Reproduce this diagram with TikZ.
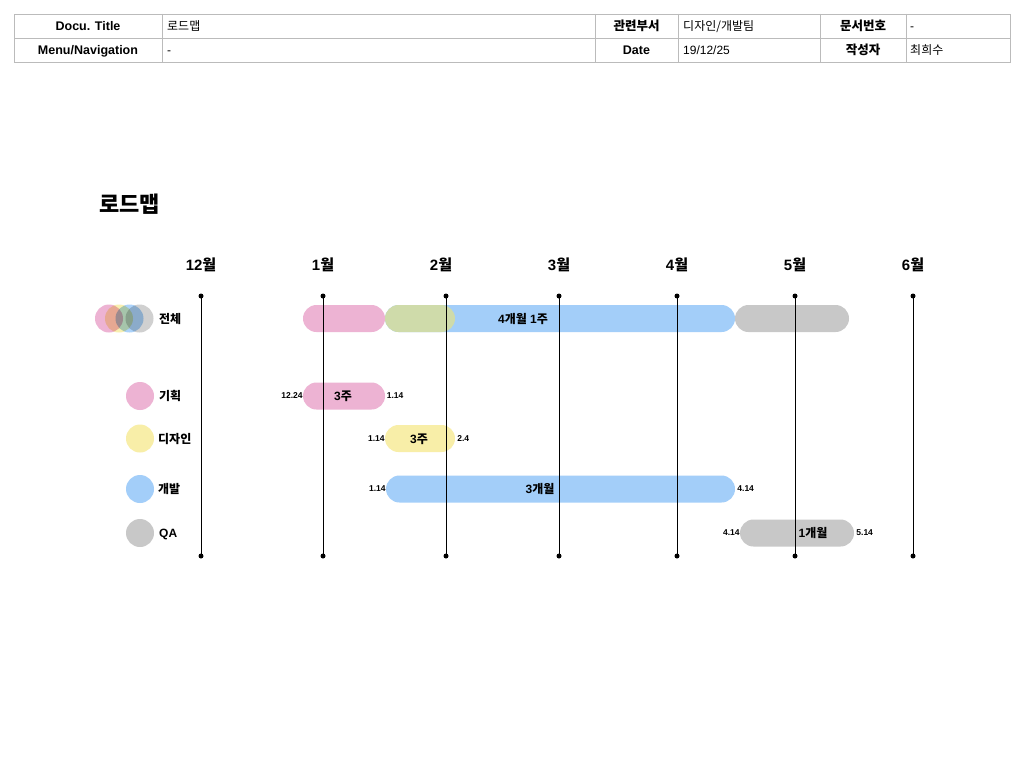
\documentclass[tikz,border=0pt]{standalone}
\usepackage{fontspec}
\setmainfont{Liberation Sans}
\newfontfamily\kr{Noto Sans CJK KR}
\definecolor{cpink}{HTML}{EDB3D3}
\definecolor{cyellow}{HTML}{F8EEA8}
\definecolor{cblue}{HTML}{A3CEF9}
\definecolor{cgray}{HTML}{C8C8C8}
\definecolor{cgreen}{HTML}{CFDBAA}
\definecolor{cborder}{HTML}{BBBBBB}
\tikzset{
  cell/.style={font=\fontsize{12}{14}\selectfont, anchor=base west, inner sep=0pt},
  hcell/.style={font=\fontsize{12.5}{14}\selectfont\bfseries, anchor=base, inner sep=0pt},
  bar/.style={rounded corners=13.5pt, minimum height=27pt, inner sep=0pt},
  barlbl/.style={font=\fontsize{12}{14}\selectfont\bfseries, anchor=base, inner sep=0pt},
  datelbl/.style={font=\fontsize{8.5}{10}\selectfont\bfseries, inner sep=0pt},
  month/.style={font=\fontsize{15}{17}\selectfont\bfseries, anchor=base, inner sep=0pt},
  rowlbl/.style={font=\fontsize{12}{14}\selectfont\bfseries, anchor=base west, inner sep=0pt},
  vline/.style={line width=1pt, black},
  dot/.style={circle, fill=black, inner sep=0pt, minimum size=5pt},
  legend/.style={circle, inner sep=0pt, minimum size=28pt},
}
\begin{document}
\begin{tikzpicture}[x=1pt,y=-1pt]
\useasboundingbox (0,0) rectangle (1024,768);
\fill[white] (0,0) rectangle (1024,768);
% header table
\draw[cborder, line width=0.9pt] (14,14) rectangle (1010,62);
\draw[cborder, line width=0.9pt] (14,38) -- (1010,38);
\foreach \x in {162,595,678,820,906} \draw[cborder, line width=0.9pt] (\x,14) -- (\x,62);
\node[hcell] (h1) at (88,30.5) {Docu. Title};
\node[hcell] (h2) at (88,54.5) {Menu/Navigation};
\node[cell] (v1) at (167,30.5) {\kr 로드맵};
\node[cell] (v2) at (167,54.5) {-};
\node[hcell] (h3) at (636.5,30.5) {\kr 관련부서};
\node[hcell] (h4) at (636.5,54.5) {Date};
\node[cell] (v3) at (683,30.5) {\kr 디자인/개발팀};
\node[cell] (v4) at (683,54.5) {19/12/25};
\node[hcell] (h5) at (863,30.5) {\kr 문서번호};
\node[hcell] (h6) at (863,54.5) {\kr 작성자};
\node[cell] (v5) at (910,30.5) {-};
\node[cell] (v6) at (910,54.5) {\kr 최희수};
% title
\node[font=\kr\fontsize{22}{25}\selectfont\bfseries, anchor=base west, inner sep=0pt] (title) at (99,212.5) {로드맵};
% bars - 전체
\node[bar, fill=cpink, minimum width=82pt] (allP) at (344,318.5) {};
\node[bar, fill=cblue, minimum width=350pt] (allB) at (560,318.5) {};
\node[bar, fill=cgreen, minimum width=70pt] (allY) at (420,318.5) {};
\node[bar, fill=cgray, minimum width=114pt] (allG) at (792,318.5) {};
\node[barlbl] (allL) at (523,323) {4{\kr 개월} 1{\kr 주}};
% row bars
\node[bar, fill=cpink, minimum width=82pt] (b1) at (344,396) {};
\node[bar, fill=cyellow, minimum width=70pt] (b2) at (420,438.5) {};
\node[bar, fill=cblue, minimum width=349pt] (b3) at (560.5,489) {};
\node[bar, fill=cgray, minimum width=114pt] (b4) at (797,533) {};
% month lines
\foreach \n/\x/\lbl in {m12/201/12, m1/323/1, m2/441/2, m3/559/3, m4/677/4, m5/795/5, m6/913/6}{
  \node[month] (\n l) at (\x,270.5) {\lbl{\kr 월}};
}
\foreach \n/\x in {m12/201, m1/323, m2/446, m3/559, m4/677, m5/795, m6/913}{
  \node[dot] (\n t) at (\x,296) {};
  \node[dot] (\n b) at (\x,556) {};
  \draw[vline] (\n t.center) -- (\n b.center);
}
% bar labels
\node[barlbl] (l1) at (343,400.5) {3{\kr 주}};
\node[barlbl] (l2) at (419,443) {3{\kr 주}};
\node[barlbl] (l3) at (540,493.5) {3{\kr 개월}};
\node[barlbl] (l4) at (813,537.5) {1{\kr 개월}};
% date labels
\node[datelbl, anchor=east] (d1a) at (b1.west) {12.24\hspace{1.5pt}};
\node[datelbl, anchor=west] (d1b) at (b1.east) {\hspace{1.5pt}1.14};
\node[datelbl, anchor=east] (d2a) at (b2.west) {1.14\hspace{2pt}};
\node[datelbl, anchor=west] (d2b) at (b2.east) {\hspace{2pt}2.4};
\node[datelbl, anchor=east] (d3a) at (b3.west) {1.14\hspace{2pt}};
\node[datelbl, anchor=west] (d3b) at (b3.east) {\hspace{2pt}4.14};
\node[datelbl, anchor=east] (d4a) at (b4.west) {4.14\hspace{2pt}};
\node[datelbl, anchor=west] (d4b) at (b4.east) {\hspace{2pt}5.14};
% legend
\begin{scope}[blend group=multiply]
\node[legend, fill=cpink] (c0a) at (109,318.5) {};
\node[legend, fill=cyellow, opacity=0.9] (c0b) at (119,318.5) {};
\node[legend, fill=cblue, opacity=0.9] (c0c) at (129.5,318.5) {};
\node[legend, fill=cgray, opacity=0.85] (c0d) at (139.5,318.5) {};
\end{scope}
\node[rowlbl] (r0) at (159,323) {\kr 전체};
\node[legend, fill=cpink] (c1) at (140,396) {};
\node[rowlbl] (r1) at (159,400.5) {\kr 기획};
\node[legend, fill=cyellow] (c2) at (140,438.5) {};
\node[rowlbl] (r2) at (158,443) {\kr 디자인};
\node[legend, fill=cblue] (c3) at (140,489) {};
\node[rowlbl] (r3) at (158,493.5) {\kr 개발};
\node[legend, fill=cgray] (c4) at (140,533) {};
\node[rowlbl] (r4) at (159,537.5) {QA};
\end{tikzpicture}
\end{document}
